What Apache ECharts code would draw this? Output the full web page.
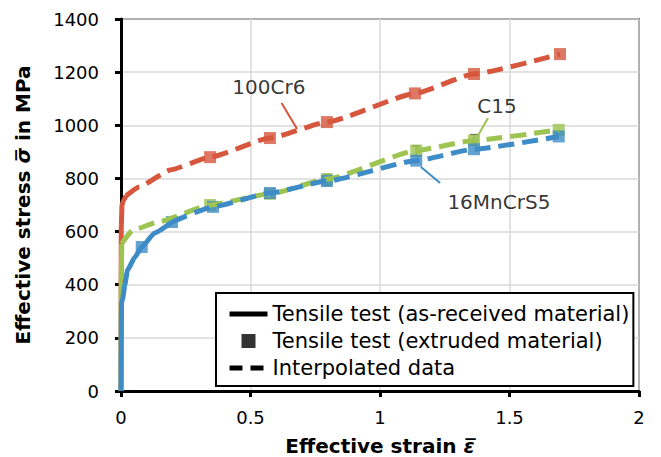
<!DOCTYPE html>
<html><head><meta charset="utf-8">
<script src="https://cdn.jsdelivr.net/npm/echarts@6/dist/echarts.min.js"></script>
<style>html,body{margin:0;padding:0;background:#fff}#c{width:661px;height:457px}</style>
</head><body><div id="c"></div>
<script>
// ---- data ----
// 100Cr6
const redSolidX = [0, 0.001, 0.004, 0.01, 0.02];
const redSolidY = [0, 620, 700, 718, 735];
const redDashX = [0.02, 0.07, 0.19, 0.344, 0.575, 0.795, 1.135, 1.363, 1.695];
const redDashY = [735, 768, 832, 880, 952, 1012, 1120, 1193, 1268];
const redMarkX = [0.344, 0.575, 0.795, 1.135, 1.363, 1.695];
const redMarkY = [880, 952, 1012, 1120, 1193, 1268];
// C15
const greenSolidX = [0, 0.001, 0.003];
const greenSolidY = [0, 420, 555];
const greenDashX = [0.003, 0.046, 0.143, 0.344, 0.575, 0.795, 1.14, 1.363, 1.69];
const greenDashY = [555, 606, 636, 700, 742, 797, 905, 943, 983];
const greenMarkX = [0.344, 0.575, 0.795, 1.14, 1.363, 1.69];
const greenMarkY = [700, 742, 797, 905, 943, 983];
// 16MnCrS5
const blueSolidX = [0, 0.002, 0.006, 0.015, 0.025, 0.054, 0.08, 0.13, 0.197];
const blueSolidY = [0, 330, 345, 400, 455, 504, 542, 595, 636];
const blueDashX = [0.197, 0.355, 0.575, 0.795, 1.14, 1.363, 1.69];
const blueDashY = [636, 693, 745, 790, 867, 910, 958];
const blueMarkX = [0.08, 0.197, 0.355, 0.575, 0.795, 1.14, 1.363, 1.69];
const blueMarkY = [542, 636, 693, 745, 790, 867, 910, 958];
// error bars
const errX = [0.795, 1.14, 1.363];
const errLow = [775, 885, 925];
const errHigh = [815, 922, 965];
// annotations
const annText = ['100Cr6', 'C15', '16MnCrS5'];
const annX = [0.571, 1.452, 1.459];
const annY = [1145, 1074, 712];
const leadFromX = [0.620, 1.417, 1.232];
const leadFromY = [1084, 1027, 783];
const leadToX = [0.680, 1.375, 1.158];
const leadToY = [986, 956, 843];
// legend
const legendNames = ['Tensile test (as-received material)', 'Tensile test (extruded material)', 'Interpolated data'];
// axes
const xMin = 0, xMax = 2, xStep = 0.5;
const yMin = 0, yMax = 1400, yStep = 200;

// ---- styles ----
const RED = '#d6563e', GREEN = '#9dc350', BLUE = '#3d8cc7';
const FONT = 'DejaVu Sans';
const LW = 5;
const zip = (a, b) => a.map((v, i) => [v, b[i]]);

function solid(name, xs, ys, color) {
  return { type: 'line', name: name, data: zip(xs, ys), showSymbol: false, symbol: 'none',
    smooth: 0.15, smoothMonotone: 'x', lineStyle: { color: color, width: LW }, silent: true };
}
function dashed(name, xs, ys, color) {
  return { type: 'line', name: name, data: zip(xs, ys), showSymbol: false, symbol: 'none',
    smooth: 0.15, smoothMonotone: 'x', lineStyle: { color: color, width: LW, type: [16, 8] }, silent: true };
}
function marks(name, xs, ys, color) {
  return { type: 'scatter', name: name, data: zip(xs, ys), symbol: 'rect', symbolSize: 12,
    itemStyle: { color: color }, silent: true };
}

const colors = [RED, GREEN, BLUE];
const option = {
  animation: false,
  backgroundColor: '#fff',
  grid: { left: 121, right: 22, top: 19, bottom: 66, containLabel: false, outerBoundsMode: 'none',
    show: true, borderColor: '#000', borderWidth: 1.5, backgroundColor: 'transparent' },
  xAxis: {
    type: 'value', min: xMin, max: xMax, interval: xStep,
    name: 'Effective strain {i|ε̅}', nameLocation: 'middle', nameGap: 45,
    nameTextStyle: { fontFamily: FONT, fontSize: 20, fontWeight: 'bold', color: '#000',
      rich: { i: { fontFamily: FONT, fontSize: 20, fontStyle: 'italic', color: '#000' } } },
    axisLine: { lineStyle: { color: '#000', width: 3 } },
    axisTick: { show: true, length: 6, lineStyle: { color: '#000', width: 3 } },
    axisLabel: { fontFamily: FONT, fontSize: 18, color: '#000', margin: 17, formatter: v => String(v) },
    splitLine: { show: true, lineStyle: { color: '#d9d9d9', width: 1.5 } }
  },
  yAxis: {
    type: 'value', min: yMin, max: yMax, interval: yStep,
    name: 'Effective stress {i|σ̅} in MPa', nameLocation: 'middle', nameGap: 88, nameRotate: 90,
    nameTextStyle: { fontFamily: FONT, fontSize: 20, fontWeight: 'bold', color: '#000',
      rich: { i: { fontFamily: FONT, fontSize: 20, fontStyle: 'italic', color: '#000' } } },
    axisLine: { show: true, lineStyle: { color: '#000', width: 3 } },
    axisTick: { show: true, length: 6, lineStyle: { color: '#000', width: 3 } },
    axisLabel: { fontFamily: FONT, fontSize: 18, color: '#000', margin: 22, formatter: v => String(v) },
    splitLine: { show: true, lineStyle: { color: '#d9d9d9', width: 1.5 } }
  },
  legend: {
    show: true, orient: 'vertical', left: 216, top: 293,
    padding: [10, 4, 7, 11], itemGap: 5, itemWidth: 38, itemHeight: 14,
    backgroundColor: '#fff', borderColor: '#000', borderWidth: 2, borderRadius: 0,
    textStyle: { fontFamily: FONT, fontSize: 21, color: '#000', lineHeight: 22 },
    selectedMode: false,
    data: [
      { name: legendNames[0], itemStyle: { opacity: 0 }, lineStyle: { color: '#000', width: 5, type: 'solid', opacity: 1 } },
      { name: legendNames[1], icon: 'path://M0 0H10V10H0Z' },
      { name: legendNames[2], itemStyle: { opacity: 0 }, lineStyle: { color: '#000', width: 5, type: [13, 8], opacity: 1 } }
    ]
  },
  series: [
    { type: 'line', name: legendNames[0], data: [], symbol: 'none', lineStyle: { color: '#000', width: 5 }, itemStyle: { color: '#000' } },
    { type: 'scatter', name: legendNames[1], data: [], symbol: 'rect', itemStyle: { color: '#000' } },
    { type: 'line', name: legendNames[2], data: [], symbol: 'none', lineStyle: { color: '#000', width: 5, type: [13, 8] }, itemStyle: { color: '#000' } },
    solid('100Cr6 test', redSolidX, redSolidY, RED),
    dashed('100Cr6 interp', redDashX, redDashY, RED),
    marks('100Cr6 extruded', redMarkX, redMarkY, RED),
    {
      type: 'custom', name: 'error', silent: true,
      data: errX.map((x, i) => [x, errLow[i], errHigh[i]]),
      renderItem: function (params, api) {
        const p1 = api.coord([api.value(0), api.value(1)]);
        const p2 = api.coord([api.value(0), api.value(2)]);
        const cw = 4, st = { stroke: '#5a5a5a', lineWidth: 1.5 };
        return { type: 'group', children: [
          { type: 'line', shape: { x1: p1[0], y1: p1[1], x2: p2[0], y2: p2[1] }, style: st },
          { type: 'line', shape: { x1: p2[0] - cw, y1: p2[1], x2: p2[0] + cw, y2: p2[1] }, style: st },
          { type: 'line', shape: { x1: p1[0] - cw, y1: p1[1], x2: p1[0] + cw, y2: p1[1] }, style: st }
        ] };
      }
    },
    solid('C15 test', greenSolidX, greenSolidY, GREEN),
    dashed('C15 interp', greenDashX, greenDashY, GREEN),
    marks('C15 extruded', greenMarkX, greenMarkY, GREEN),
    solid('16MnCrS5 test', blueSolidX, blueSolidY, BLUE),
    dashed('16MnCrS5 interp', blueDashX, blueDashY, BLUE),
    marks('16MnCrS5 extruded', blueMarkX, blueMarkY, BLUE),
    {
      type: 'lines', coordinateSystem: 'cartesian2d', silent: true, z: 3,
      data: annText.map((t, i) => ({ coords: [[leadFromX[i], leadFromY[i]], [leadToX[i], leadToY[i]]],
        lineStyle: { color: colors[i], width: 2, opacity: 1 } }))
    },
    {
      type: 'scatter', name: 'annotations', silent: true, symbolSize: 0, z: 4,
      data: annText.map((t, i) => [annX[i], annY[i], t]),
      label: { show: true, position: 'inside', formatter: p => p.data[2],
        fontFamily: FONT, fontSize: 20, color: '#000' }
    }
  ]
};
const chart = echarts.init(document.getElementById('c'), null, { renderer: 'svg' });
chart.setOption(option);
</script></body></html>
